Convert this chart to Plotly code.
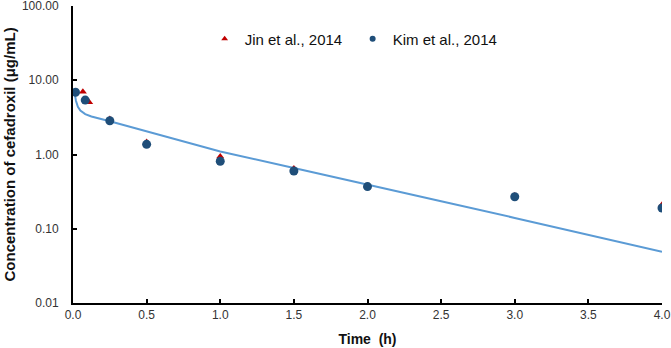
import plotly.graph_objects as go

# Observed data
jin_time = [0.067, 0.11, 0.25, 0.5, 1.0, 1.5, 2.0, 3.0, 4.0]
jin_conc = [7.0, 5.05, 3.0, 1.47, 0.94, 0.65, 0.38, 0.28, 0.21]

kim_time = [0.017, 0.083, 0.25, 0.5, 1.0, 1.5, 2.0, 3.0, 4.0]
kim_conc = [6.9, 5.4, 2.85, 1.37, 0.81, 0.60, 0.37, 0.27, 0.19]

# Simulated curve (digitized)
sim_time = [0.01, 0.02, 0.033, 0.05, 0.083, 0.125, 0.25, 0.5, 0.75, 1.0, 1.5, 2.0, 2.5, 3.0, 3.5, 4.0]
sim_conc = [6.9, 5.3, 4.4, 3.9, 3.5, 3.25, 2.8, 2.04, 1.5, 1.1, 0.66, 0.39, 0.234, 0.14, 0.083, 0.049]

x_ticks = [0.0, 0.5, 1.0, 1.5, 2.0, 2.5, 3.0, 3.5, 4.0]
y_ticks = [0.01, 0.1, 1, 10, 100]
y_tick_text = ["0.01", "0.10", "1.00", "10.00", "100.00"]

FONT = "Arial, 'Liberation Sans', sans-serif"
RED = "#C00000"
NAVY = "#1F4E79"
LINE = "#5B9BD5"

L, R, T, B = 73, 9, 6, 45
PLOT_W = 671 - L - R

fig = go.Figure()
fig.add_trace(go.Scatter(x=sim_time, y=sim_conc, mode="lines",
                         line=dict(color=LINE, width=2), showlegend=False))
fig.add_trace(go.Scatter(x=jin_time, y=jin_conc, mode="markers",
                         marker=dict(symbol="triangle-up", color=RED, size=7),
                         showlegend=False))
fig.add_trace(go.Scatter(x=kim_time, y=kim_conc, mode="markers",
                         marker=dict(symbol="circle", color=NAVY, size=9),
                         showlegend=False))
# legend entries (small symbols)
fig.add_trace(go.Scatter(x=[None], y=[None], mode="markers", name="Jin et al., 2014",
                         marker=dict(symbol="triangle-up", color=RED, size=6)))
fig.add_trace(go.Scatter(x=[None], y=[None], mode="markers", name="Kim et al., 2014",
                         marker=dict(symbol="circle", color=NAVY, size=6)))

fig.update_layout(
    width=671, height=348,
    margin=dict(l=L, r=R, t=T, b=B, autoexpand=False),
    paper_bgcolor="white", plot_bgcolor="white",
    font=dict(family=FONT, size=12, color="#333333"),
    legend=dict(orientation="h", x=0.2235, y=0.889, xanchor="left", yanchor="middle",
                font=dict(size=15, color="#111111"), bgcolor="rgba(0,0,0,0)",
                entrywidth=103, entrywidthmode="pixels", itemwidth=30),
    xaxis=dict(range=[0, 4], tickvals=x_ticks, tickformat=".1f",
               ticks="inside", ticklen=4, tickwidth=1.5, tickcolor="black",
               showline=True, linecolor="black", linewidth=2,
               showgrid=False, zeroline=False, ticklabeloverflow="allow",
               title=dict(text="<b>Time  (h)</b>", font=dict(size=14, color="#111111"), standoff=13)),
    yaxis=dict(type="log", range=[-2, 2], tickvals=y_ticks, ticktext=y_tick_text,
               ticks="inside", ticklen=4, tickwidth=1.5, tickcolor="black",
               showline=True, linecolor="black", linewidth=2,
               showgrid=False, zeroline=False, ticklabelstandoff=10,
               ticklabeloverflow="allow"),
    annotations=[dict(text="<b>Concentration of cefadroxil (μg/mL)</b>",
                      xref="paper", yref="paper", x=(9 - L) / PLOT_W, y=0.5,
                      xanchor="center", yanchor="middle", textangle=-90,
                      showarrow=False, font=dict(size=15, color="#111111"))],
)

fig.write_html("out.html", config={"displayModeBar": False},
               post_script="document.body.style.margin='0';")
